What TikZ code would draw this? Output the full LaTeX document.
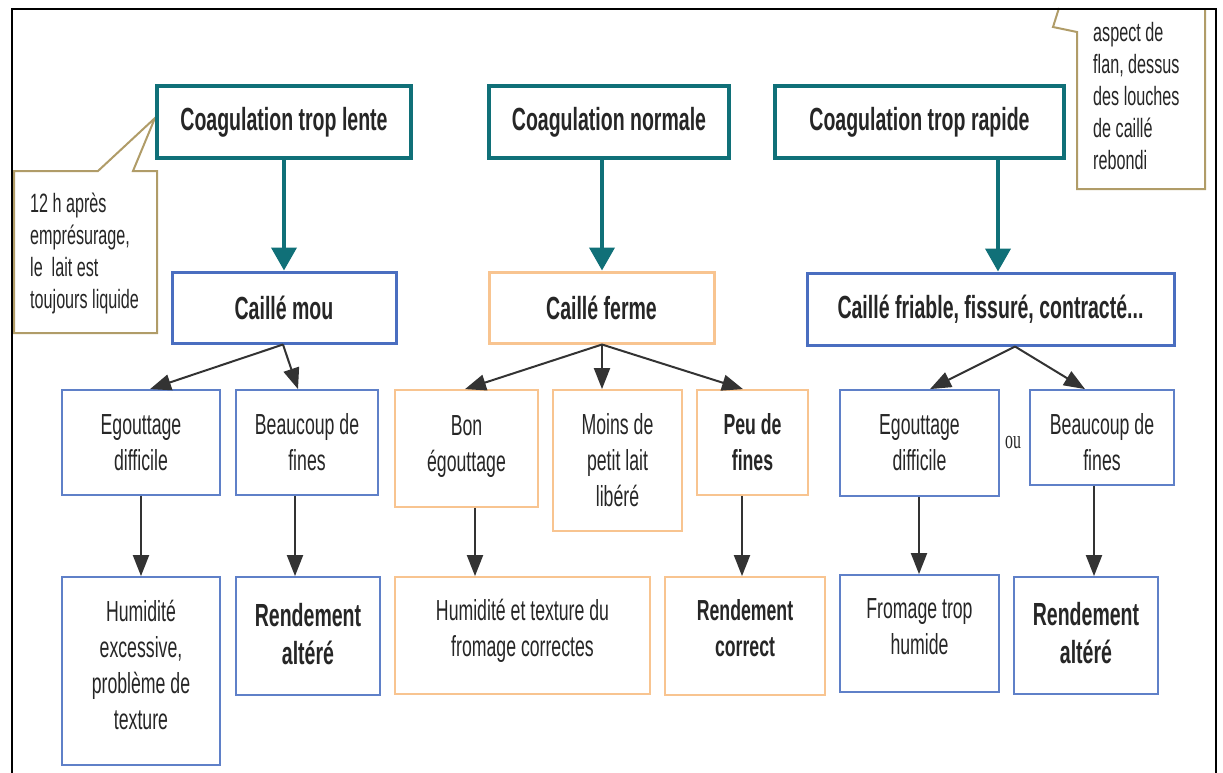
\documentclass[tikz,border=0pt]{standalone}
\usepackage{fontspec}
\setmainfont{Liberation Sans}[FakeStretch=0.61]
\newfontfamily\oufont{Liberation Serif}[FakeStretch=0.61]
\usetikzlibrary{arrows.meta}

\definecolor{cteal}{HTML}{107078}
\definecolor{cblue}{HTML}{4A6EC0}
\definecolor{clblue}{HTML}{5F80C8}
\definecolor{corange}{HTML}{F8C490}
\definecolor{ctan}{HTML}{B09C68}
\definecolor{ink}{HTML}{262626}
\definecolor{arrowgray}{HTML}{333333}

% centred block of lines, moved up by #1 while keeping its box size
\newcommand{\liftby}[2]{\raisebox{#1}[\height][\depth]{\begin{tabular}{@{}c@{}}#2\end{tabular}}}

\begin{document}
\begin{tikzpicture}[x=1pt,y=-1pt,
  every node/.style={inner sep=0pt, text=ink, align=center},
  titlebox/.style={draw=cteal, line width=3.5pt, fill=white,
    font=\fontsize{32}{38}\selectfont\bfseries},
  curdbox/.style={line width=3pt, fill=white,
    font=\fontsize{32}{38}\selectfont\bfseries},
  effbox/.style={line width=1.8pt, fill=white,
    font=\fontsize{29}{36}\selectfont},
  bluebox/.style={draw=clblue},
  orangebox/.style={draw=corange},
  boldtext/.style={font=\fontsize{29}{36}\selectfont\bfseries},
  bigbold/.style={font=\fontsize{32}{38}\selectfont\bfseries},
  bigarrow/.style={draw=cteal, line width=4pt,
    -{Triangle[width=25pt,length=23pt]}},
  thinarrow/.style={draw=arrowgray, line width=2pt,
    -{Triangle[width=16pt,length=21pt]}},
  callout/.style={draw=ctan, line width=2pt, fill=white},
  callouttext/.style={align=left, font=\fontsize{26.5}{32}\selectfont}
]
\useasboundingbox (0,0) rectangle (1223,772);

% side notes
\draw[callout] (14,171) -- (98,171) -- (155,118) -- (133,171) -- (157,171)
  -- (157,333) -- (14,333) -- cycle;
\node[callouttext, anchor=west] (note1) at (30,253)
  {12 h après\\empré­surage,\\le\ \ lait est\\toujours liquide};

\draw[callout] (1059,8) -- (1053,27) -- (1077,32) -- (1077,189)
  -- (1205,189) -- (1205,8);
\node[callouttext, anchor=west] (note2) at (1093,96)
  {aspect de\\flan, dessus\\des louches\\de caillé\\rebondi};

% outer frame
\draw[line width=2.5pt, black] (12,800) -- (12,9) -- (1216,9) -- (1216,800);

% coagulation speeds
\node[titlebox, minimum width=254pt, minimum height=72pt] (lente) at (284,122)
  {Coagulation trop lente};
\node[titlebox, minimum width=240pt, minimum height=72pt] (normale) at (609,122)
  {Coagulation normale};
\node[titlebox, minimum width=289pt, minimum height=72pt] (rapide) at (919.5,122)
  {Coagulation trop rapide};

% curd types
\node[curdbox, draw=cblue, minimum width=224pt, minimum height=71pt] (mou) at (284,307.5)
  {Caillé mou};
\node[curdbox, draw=corange, minimum width=225pt, minimum height=71pt] (ferme) at (601.5,307.5)
  {Caillé ferme};
\node[curdbox, draw=cblue, minimum width=367pt, minimum height=72pt] (friable) at (990.5,309)
  {Caillé friable, fissuré, contracté...};

% draining and fines
\node[effbox, bluebox, minimum width=158pt, minimum height=105pt] (egl) at (141,442.5)
  {Egouttage\\difficile};
\node[effbox, bluebox, minimum width=142pt, minimum height=105pt] (bfl) at (307,442.5)
  {Beaucoup de\\fines};
\node[effbox, orangebox, minimum width=143pt, minimum height=117pt] (bon) at (466.5,448.5)
  {\liftby{2pt}{Bon\\égouttage}};
\node[effbox, orangebox, minimum width=129pt, minimum height=141pt] (moins) at (617.5,460.5)
  {Moins de\\petit lait\\libéré};
\node[effbox, orangebox, boldtext, minimum width=111pt, minimum height=105pt] (peu) at (752.5,442.5)
  {Peu de\\fines};
\node[effbox, bluebox, minimum width=159pt, minimum height=106pt] (egr) at (919.5,443)
  {Egouttage\\difficile};
\node[effbox, bluebox, minimum width=144pt, minimum height=95pt] (bfr) at (1102,437.5)
  {\liftby{-8pt}{Beaucoup de\\fines}};
\node[font=\oufont\fontsize{26}{30}\selectfont] (ou) at (1013,442) {ou};

% consequences
\node[effbox, bluebox, minimum width=158pt, minimum height=188pt] (hum) at (141,671)
  {\liftby{3pt}{Humidité\\excessive,\\problème de\\texture}};
\node[effbox, bluebox, bigbold, minimum width=144pt, minimum height=118pt] (ral) at (308,636)
  {\liftby{-2pt}{Rendement\\altéré}};
\node[effbox, orangebox, minimum width=255pt, minimum height=117pt] (hfc) at (522.5,635.5)
  {\liftby{4pt}{Humidité et texture du\\fromage correctes}};
\node[effbox, orangebox, boldtext, minimum width=160pt, minimum height=118pt] (rco) at (745,636)
  {\liftby{5pt}{Rendement\\correct}};
\node[effbox, bluebox, minimum width=159pt, minimum height=117pt] (fth) at (919.5,633.5)
  {\liftby{4pt}{Fromage trop\\humide}};
\node[effbox, bluebox, bigbold, minimum width=144pt, minimum height=117pt] (rar) at (1086,635.5)
  {\liftby{-1pt}{Rendement\\altéré}};

% teal arrows
\draw[bigarrow] (lente.south) -- (mou.north);
\draw[bigarrow] ([xshift=-7pt]normale.south) -- ([xshift=0.5pt]ferme.north);
\draw[bigarrow] ([xshift=78.5pt]rapide.south) -- ([xshift=7.5pt]friable.north);

% curd to effects
\draw[thinarrow] ([xshift=-1pt]mou.south) -- ([xshift=9pt]egl.north);
\draw[thinarrow] ([xshift=-1pt]mou.south) -- ([xshift=-9pt]bfl.north);
\draw[thinarrow] ([xshift=0.5pt]ferme.south) -- ([xshift=-1.5pt]bon.north);
\draw[thinarrow] ([xshift=0.5pt]ferme.south) -- ([xshift=0.5pt]ferme.south |- moins.north);
\draw[thinarrow] ([xshift=0.5pt]ferme.south) -- ([xshift=-9.5pt]peu.north);
\draw[thinarrow] ([xshift=24.5pt]friable.south) -- ([xshift=10.5pt]egr.north);
\draw[thinarrow] ([xshift=24.5pt]friable.south) -- ([xshift=-17pt]bfr.north);

% effects to consequences
\draw[thinarrow] (egl.south) -- (hum.north);
\draw[thinarrow] ([xshift=-12pt]bfl.south) -- ([xshift=-13pt]ral.north);
\draw[thinarrow] ([xshift=8.5pt]bon.south) -- ([xshift=-47.5pt]hfc.north);
\draw[thinarrow] ([xshift=-10.5pt]peu.south) -- ([xshift=-3pt]rco.north);
\draw[thinarrow] ([xshift=-0.5pt]egr.south) -- ([xshift=-0.5pt]fth.north);
\draw[thinarrow] ([xshift=-8pt]bfr.south) -- ([xshift=8pt]rar.north);
\end{tikzpicture}
\end{document}
